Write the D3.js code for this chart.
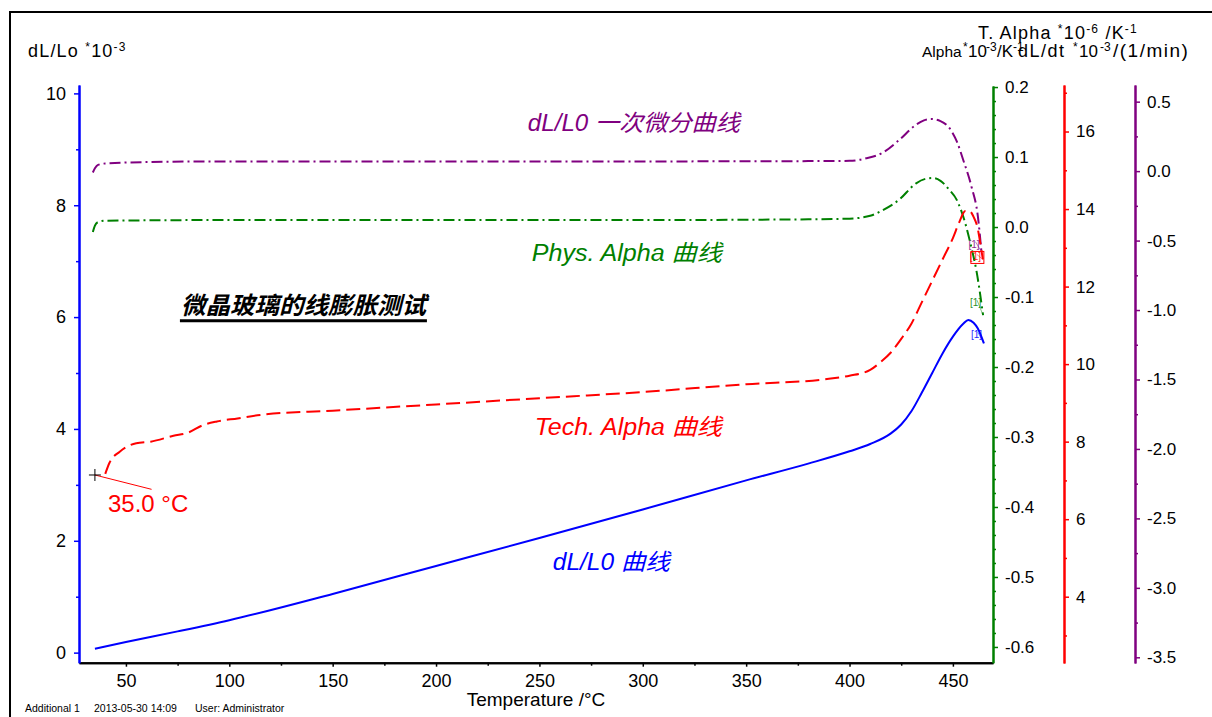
<!DOCTYPE html>
<html>
<head>
<meta charset="utf-8">
<script src="https://cdn.jsdelivr.net/npm/d3@7"></script>
<style>
    body { margin: 0; background: #fff; }
    svg { display: block; font-family: "Liberation Sans", Arial, sans-serif; }
</style>
</head>
<body>
<div id="chart"></div>
<script>
// Courbe dL/L0 (axe de gauche, *10-3)
const dlTemp   = [35, 50, 75, 100, 150, 200, 250, 300, 350, 380, 400, 410, 420, 425, 430, 435, 440, 445, 450, 455, 457.5, 460, 462, 465];
const dlValues = [0.07, 0.19, 0.38, 0.58, 1.05, 1.55, 2.05, 2.56, 3.08, 3.38, 3.6, 3.73, 3.92, 4.08, 4.32, 4.65, 5.0, 5.35, 5.65, 5.88, 5.95, 5.9, 5.8, 5.53];

// Courbe Tech. Alpha (axe rouge, *10-6 /K)
const techTemp   = [40, 42, 47, 55, 62, 73, 80, 87, 94, 104, 115, 150, 200, 250, 300, 350, 390, 400, 410, 415, 420, 425, 430, 435, 440, 445, 450, 453, 456, 458, 460, 462, 463, 464.5];
const techValues = [7.17, 7.45, 7.74, 7.96, 8.0, 8.15, 8.23, 8.42, 8.52, 8.6, 8.69, 8.8, 8.96, 9.12, 9.28, 9.48, 9.62, 9.7, 9.85, 10.05, 10.3, 10.65, 11.05, 11.6, 12.15, 12.7, 13.25, 13.65, 13.95, 13.95, 13.8, 13.5, 13.2, 12.7];

// Courbe Phys. Alpha (axe vert, *10-3 /K)
const physTemp   = [34, 35, 36.5, 40, 100, 200, 300, 380, 400, 410, 416, 424, 432, 437, 440.5, 444, 448, 452, 456.5, 459, 461.3, 464.6];
const physValues = [-0.007, 0.002, 0.007, 0.009, 0.010, 0.010, 0.010, 0.011, 0.012, 0.016, 0.024, 0.039, 0.062, 0.069, 0.070, 0.066, 0.054, 0.038, 0.0, -0.03, -0.061, -0.126];

// Courbe dL/L0 premiere derivee (axe violet, *10-3 /(1/min))
const diffTemp   = [34, 35, 36.5, 40, 60, 100, 200, 300, 380, 400, 408, 416, 424, 432, 436, 439.6, 444, 449, 452, 455, 459, 462.1, 463.8];
const diffValues = [-0.01, 0.02, 0.045, 0.055, 0.065, 0.07, 0.07, 0.07, 0.072, 0.074, 0.092, 0.132, 0.224, 0.332, 0.365, 0.375, 0.36, 0.296, 0.21, 0.08, -0.112, -0.328, -0.58];

// Graduations
const xTicks       = [50, 100, 150, 200, 250, 300, 350, 400, 450];
const xMinor       = [75, 125, 175, 225, 275, 325, 375, 425];
const leftTicks    = [0, 2, 4, 6, 8, 10];
const leftMinor    = [1, 3, 5, 7, 9];
const greenTicks   = [0.2, 0.1, 0.0, -0.1, -0.2, -0.3, -0.4, -0.5, -0.6];
const redTicks     = [4, 6, 8, 10, 12, 14, 16];
const redMinor     = [3, 5, 7, 9, 11, 13, 15, 17];
const purpleTicks  = [0.5, 0.0, -0.5, -1.0, -1.5, -2.0, -2.5, -3.0, -3.5];
const purpleMinor  = [0.25, -0.25, -0.75, -1.25, -1.75, -2.25, -2.75, -3.25];

// Point repere 35.0 °C sur la courbe Tech. Alpha
const markerTemp = 35;
const markerValue = 7.14;

const width = 1212;
const height = 717;
const blue = "#0000ff", red = "#ff0000", green = "#008000", purple = "#800080";

const svg = d3.select("#chart").append("svg")
    .attr("width", width)
    .attr("height", height);

// Cadre
svg.append("rect")
    .attr("x", 10).attr("y", 12)
    .attr("width", 1260).attr("height", 760)
    .attr("fill", "none")
    .attr("stroke", "#000")
    .attr("stroke-width", 2);

// Echelles
const x = d3.scaleLinear().domain([27.3, 469.4]).range([79, 993]);
const yLeft = d3.scaleLinear().domain([-0.18, 10.15]).range([662.7, 85]);
const yGreen = d3.scaleLinear().domain([-0.6225, 0.2015]).range([662.7, 86]);
const yRed = d3.scaleLinear().domain([2.29, 17.2]).range([663, 85]);
const yPurple = d3.scaleLinear().domain([-3.541, 0.62]).range([663, 85]);

// Fonction pour styliser un axe
function styleAxis(g, color, fontSize) {
    g.select(".domain").attr("stroke", color).attr("stroke-width", 2);
    g.selectAll(".tick line").attr("stroke", color).attr("stroke-width", 1.5);
    g.selectAll(".tick text")
        .attr("fill", "#000")
        .attr("font-size", fontSize)
        .attr("font-family", '"Liberation Sans", Arial, sans-serif');
}

// Fonction pour ajouter un axe avec graduations principales et secondaires
function addAxis(axisFn, scale, translate, major, minor, color, fontSize, fmt) {
    const axis = axisFn(scale).tickValues(major).tickSize(5).tickSizeOuter(0).tickPadding(7);
    if (fmt) axis.tickFormat(fmt);
    const g = svg.append("g").attr("transform", translate).call(axis);
    styleAxis(g, color, fontSize);
    const gMinor = svg.append("g").attr("transform", translate)
        .call(axisFn(scale).tickValues(minor).tickSize(3).tickSizeOuter(0).tickFormat(""));
    styleAxis(gMinor, color, fontSize);
    return g;
}

// Axe du bas
const xAxisG = addAxis(d3.axisBottom, x, "translate(0,662.7)", xTicks, xMinor, "#000", "18px");
xAxisG.selectAll(".tick line").attr("y2", 4);
xAxisG.selectAll(".tick text").attr("y", 12);

// Axe de gauche (bleu)
const leftG = addAxis(d3.axisLeft, yLeft, "translate(79,0)", leftTicks, leftMinor, blue, "18px");
leftG.selectAll(".tick text").attr("x", -13);

// Axe vert
const greenMinor = d3.range(-0.6, 0.2001, 0.02).filter(v => Math.abs(Math.round(v * 10) - v * 10) > 0.01);
addAxis(d3.axisRight, yGreen, "translate(993,0)", greenTicks, greenMinor, green, "17px", d => d.toFixed(1));

// Axe rouge
addAxis(d3.axisRight, yRed, "translate(1064,0)", redTicks, redMinor, red, "17px");

// Axe violet
addAxis(d3.axisRight, yPurple, "translate(1135,0)", purpleTicks, purpleMinor, purple, "17px", d => d.toFixed(1));

// Fonction pour tracer une courbe
function drawCurve(temps, values, yScale, color, dash, labelDy, boxed) {
    const pts = temps.map((t, i) => [t, values[i]]);
    const line = d3.line()
        .x(d => x(d[0]))
        .y(d => yScale(d[1]))
        .curve(d3.curveMonotoneX);
    svg.append("path")
        .datum(pts)
        .attr("d", line)
        .attr("fill", "none")
        .attr("stroke", color)
        .attr("stroke-width", 2)
        .attr("stroke-dasharray", dash);
    // Petite etiquette [1] en fin de courbe
    const last = pts[pts.length - 1];
    const ex = x(last[0]), ey = yScale(last[1]);
    svg.append("text")
        .attr("x", ex - 13).attr("y", ey + labelDy)
        .attr("font-size", "10px")
        .attr("fill", color)
        .attr("opacity", 0.85)
        .text("[1]");
    svg.append("line")
        .attr("x1", ex - 6).attr("y1", ey + labelDy - 6)
        .attr("x2", ex).attr("y2", ey)
        .attr("stroke", color).attr("stroke-width", 0.8).attr("opacity", 0.6);
    if (boxed) {
        svg.append("rect")
            .attr("x", ex - 12).attr("y", ey + labelDy - 9)
            .attr("width", 13).attr("height", 12)
            .attr("fill", "none")
            .attr("stroke", color).attr("stroke-width", 1);
    }
}

drawCurve(diffTemp, diffValues, yPurple, purple, "11,4,2,4", -4, false);
drawCurve(physTemp, physValues, yGreen, green, "11,4,2,4", -9, false);
drawCurve(techTemp, techValues, yRed, red, "14,6", 1, true);
drawCurve(dlTemp, dlValues, yLeft, blue, null, -5, false);

// Repere 35.0 °C
const mx = x(markerTemp), my = yRed(markerValue);
svg.append("line")
    .attr("x1", mx).attr("y1", my)
    .attr("x2", x(62.4)).attr("y2", yRed(6.77))
    .attr("stroke", red).attr("stroke-width", 1);
svg.append("path")
    .attr("d", `M${mx - 6},${my}H${mx + 6}M${mx},${my - 6}V${my + 6}`)
    .attr("stroke", "#000").attr("stroke-width", 1);
svg.append("text")
    .attr("x", x(41.3)).attr("y", yLeft(2.52))
    .attr("font-size", "24px")
    .attr("fill", red)
    .text("35.0 °C");

// Etiquettes des courbes
function curveLabel(t, v, color, txt, len) {
    svg.append("text")
        .attr("x", x(t)).attr("y", yLeft(v))
        .attr("font-size", "23px")
        .attr("font-style", "italic")
        .attr("font-family", '"Liberation Sans", "Noto Sans CJK SC", sans-serif')
        .attr("fill", color)
        .attr("textLength", len)
        .attr("lengthAdjust", "spacingAndGlyphs")
        .text(txt);
}
curveLabel(244.4, 9.33, purple, "dL/L0 一次微分曲线", 212);
curveLabel(246.3, 7.0, green, "Phys. Alpha 曲线", 190);
curveLabel(247.8, 3.89, red, "Tech. Alpha 曲线", 187);
curveLabel(256.5, 1.48, blue, "dL/L0 曲线", 117);

// Titre
svg.append("text")
    .attr("x", x(76.6)).attr("y", yLeft(6.06))
    .attr("font-size", "24px")
    .attr("font-weight", "bold")
    .attr("font-style", "italic")
    .attr("font-family", '"Noto Sans CJK SC", sans-serif')
    .attr("fill", "#000")
    .attr("textLength", 245)
    .attr("lengthAdjust", "spacingAndGlyphs")
    .text("微晶玻璃的线膨胀测试");
svg.append("line")
    .attr("x1", x(76.6) - 1).attr("x2", x(76.6) + 246)
    .attr("y1", yLeft(6.06) + 7).attr("y2", yLeft(6.06) + 7)
    .attr("stroke", "#000").attr("stroke-width", 3);

// Titres des axes : morceaux [texte, exposant]
const headerLeft   = [["dL/Lo "], ["*", true], ["10"], ["-3", true]];
const headerRight1 = [["T. Alpha "], ["*", true], ["10"], ["-6", true], [" /K"], ["-1", true]];

function axisTitle(parts, px, py) {
    const t = svg.append("text")
        .attr("x", px).attr("y", py)
        .attr("font-size", "18px")
        .attr("letter-spacing", "1.2px")
        .attr("fill", "#000");
    let up = false;
    parts.forEach(p => {
        const s = t.append("tspan").text(p[0]);
        if (p[1] && !up) { s.attr("dy", -6); up = true; }
        if (!p[1] && up) { s.attr("dy", 6); up = false; }
        if (p[1]) s.attr("font-size", "12px");
    });
}
axisTitle(headerLeft, 28, 57);
axisTitle(headerRight1, 978, 39);

// Deuxieme ligne a droite, tassee : morceaux [texte, x debut, taille, espacement, exposant]
const headerRight2 = [["Alpha", 922, 15.5, 0], ["*", 963, 12, 0, true], ["10", 968, 17, 0], ["-3", 986, 12, 0, true],
    ["/K", 997, 17, 0], ["-1", 1013, 12, 0, true], ["dL/dt", 1018, 18, 1.5], ["*", 1073, 12, 0, true],
    ["10", 1079, 17, 0], ["-3", 1100, 12, 0, true], ["/(1/min)", 1113, 19, 1.5]];
headerRight2.forEach(p => {
    svg.append("text")
        .attr("x", p[1])
        .attr("y", p[4] ? 51 : 57)
        .attr("font-size", p[2] + "px")
        .attr("letter-spacing", p[3] ? p[3] + "px" : null)
        .attr("fill", "#000")
        .text(p[0]);
});

// Titre de l'axe des temperatures
svg.append("text")
    .attr("x", 536).attr("y", 706)
    .attr("text-anchor", "middle")
    .attr("font-size", "19px")
    .attr("fill", "#000")
    .text("Temperature /°C");

// Pied de page
const footer = [["Additional 1", 25], ["2013-05-30 14:09", 94], ["User: Administrator", 195]];
footer.forEach(f => {
    svg.append("text")
        .attr("x", f[1]).attr("y", 712)
        .attr("font-size", "10.5px")
        .attr("fill", "#000")
        .text(f[0]);
});
</script>
</body>
</html>
